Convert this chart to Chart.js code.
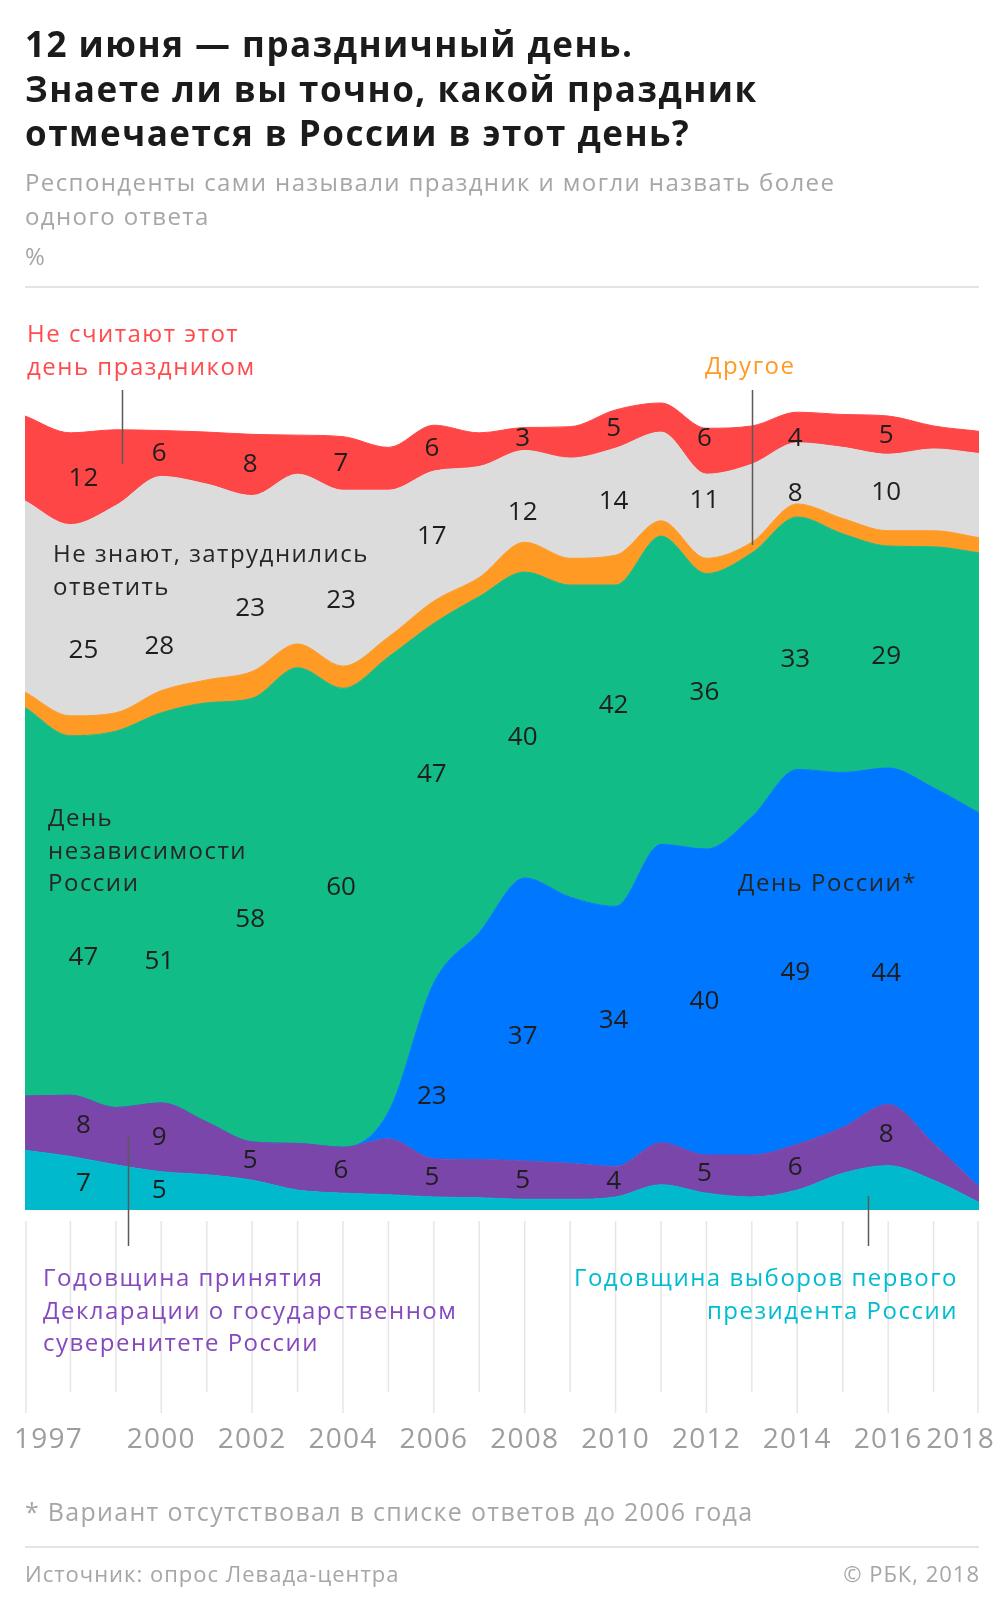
<!DOCTYPE html>
<html lang="ru">
<head>
<meta charset="utf-8">
<title>12 июня — праздничный день</title>
<script src="https://cdn.jsdelivr.net/npm/chart.js@4.4.1/dist/chart.umd.min.js"></script>
<style>
  html, body { margin: 0; padding: 0; background: #fff; }
  #page { position: relative; width: 1005px; height: 1601px; overflow: hidden; font-family: "Open Sans", sans-serif; }
  #chart { position: absolute; left: 0; top: 0; }
  .t { position: absolute; white-space: nowrap; }
  .title { left: 25px; top: 22px; font-weight: 700; font-size: 35px; line-height: 44.5px; color: #1b1b1b; letter-spacing: 1.5px; }
  .sub { left: 25px; top: 165px; font-size: 24px; line-height: 34px; color: #a6a6a6; letter-spacing: 1.4px; }
  .pct { left: 25px; top: 239px; font-size: 24px; line-height: 34px; color: #a6a6a6; }
  .rule { position: absolute; left: 25px; width: 954px; height: 2px; background: #e4e4e4; }
  .name { font-size: 24px; line-height: 32.5px; letter-spacing: 1.5px; }
  .foot { left: 25px; top: 1494px; font-size: 25px; line-height: 34px; color: #a6a6a6; letter-spacing: 1.3px; }
  .src { top: 1558px; font-size: 22px; line-height: 30px; color: #a6a6a6; letter-spacing: 1px; }
</style>
</head>
<body>
<div id="page">
  <canvas id="chart" width="1005" height="1601"></canvas>

  <div class="t title">12 июня — праздничный день.<br>Знаете ли вы точно, какой праздник<br>отмечается в России в этот день?</div>
  <div class="t sub">Респонденты сами называли праздник и могли назвать более<br>одного ответа</div>
  <div class="t pct">%</div>
  <div class="rule" style="top:286px"></div>

  <div class="t name" style="left:27px;top:317px;color:#ff4b4b">Не считают этот<br>день праздником</div>
  <div class="t name" style="left:705px;top:349px;color:#ff9a24">Другое</div>
  <div class="t name" style="left:53px;top:537px;color:#262626">Не знают, затруднились<br>ответить</div>
  <div class="t name" style="left:48px;top:801px;color:#262626">День<br>независимости<br>России</div>
  <div class="t name" style="left:738px;top:866px;color:#262626">День России*</div>
  <div class="t name" style="left:43px;top:1261px;color:#8649bd">Годовщина принятия<br>Декларации о государственном<br>суверенитете России</div>
  <div class="t name" style="right:47px;top:1261px;color:#00bcd0;text-align:right">Годовщина выборов первого<br>президента России</div>

  <div class="t foot">* Вариант отсутствовал в списке ответов до 2006 года</div>
  <div class="rule" style="top:1546px"></div>
  <div class="t src" style="left:25px">Источник: опрос Левада-центра</div>
  <div class="t src" style="right:25px">© РБК, 2018</div>
</div>

<script>
var years = [1997, 1998, 1999, 2000, 2001, 2002, 2003, 2004, 2005, 2006, 2007,
             2008, 2009, 2010, 2011, 2012, 2013, 2014, 2015, 2016, 2017, 2018];

// stacked from the bottom up
var cyan   = [7.8, 7, 5.9, 5, 4.6, 3.9, 2.6, 2.2, 2.0, 1.7, 1.6, 1.4, 1.4, 1.7, 3.3, 2.2, 1.7, 2.6, 4.8, 5.8, 3.9, 1.0];
var purple = [7.1, 8, 7.5, 9, 6.9, 5, 6.1, 6, 7.3, 5, 5.0, 5, 4.7, 4, 5.5, 5, 5.5, 6, 6.0, 8, 4.8, 2.0];
var blue   = [0, 0, 0, 0, 0, 0, 0, 0, 3.5, 23, 29.7, 37, 34.8, 34, 39.0, 40, 44.2, 49, 46.4, 44, 46.5, 48.9];
var green  = [50.8, 47, 49.2, 51, 54.8, 58, 62.2, 60, 59.5, 47, 43.9, 40, 40.8, 42, 40.3, 36, 34.5, 33, 31.2, 29, 31.5, 34.0];
var orange = [2.0, 2.6, 2.4, 2.9, 3.0, 3.5, 3.1, 2.9, 2.6, 2.9, 2.5, 3.9, 3.5, 3.9, 2.0, 2.0, 1.4, 1.7, 2.0, 2.0, 2.1, 2.0];
var grey   = [25.0, 25, 27.1, 28, 25.6, 23, 22.2, 23, 19.2, 17, 14.5, 12, 13.1, 14, 11.6, 11, 10.2, 8, 9.3, 10, 10.7, 11.0];
var red    = [11.1, 12, 9.9, 6, 6.8, 8, 5.1, 7, 5.6, 6, 4.4, 3, 4.1, 5, 3.8, 6, 5.0, 4, 4.3, 5, 3.0, 2.9];

var labelYears = [1998, 2000, 2002, 2004, 2006, 2008, 2010, 2012, 2014, 2016];
var blueLabelYears = [2006, 2008, 2010, 2012, 2014, 2016];
var cyanLabelYears = [1998, 2000];
var tickYears = [1997, 2000, 2002, 2004, 2006, 2008, 2010, 2012, 2014, 2016, 2018];

var series = [
  { key: 'cyan',   data: cyan,   color: '#00b9cb', labels: cyanLabelYears },
  { key: 'purple', data: purple, color: '#7a46a9', labels: labelYears },
  { key: 'blue',   data: blue,   color: '#0077ff', labels: blueLabelYears },
  { key: 'green',  data: green,  color: '#12bc86', labels: labelYears },
  { key: 'orange', data: orange, color: '#ff9a24', labels: [] },
  { key: 'grey',   data: grey,   color: '#dcdcdc', labels: labelYears },
  { key: 'red',    data: red,    color: '#ff4646', labels: labelYears }
];

// hand nudges so numbers stay clear of the series names, like in the original
var nudge = {
  'grey:1998': 30, 'grey:2000': 63, 'grey:2002': 25, 'grey:2004': 22, 'grey:2008': 16, 'grey:2012': -16, 'grey:2014': 20,
  'green:1998': 42, 'green:2000': 54, 'green:2004': -30, 'green:2006': -28, 'green:2008': 13, 'green:2010': -40,
  'green:2012': -19, 'green:2014': 16,
  'blue:2006': 26, 'blue:2008': 17, 'blue:2010': -16, 'blue:2014': 16, 'blue:2016': 37,
  'red:2012': -13, 'red:2014': 11
};

var decor = {
  id: 'decor',
  afterDatasetsDraw: function (chart) {
    var ctx = chart.ctx, x = chart.scales.x, y = chart.scales.y;
    ctx.save();

    // values inside the bands
    ctx.font = '26px "Open Sans"';
    ctx.fillStyle = '#1e1e1e';
    ctx.textAlign = 'center';
    ctx.textBaseline = 'middle';
    labelYears.forEach(function (yr) {
      var i = years.indexOf(yr);
      var base = 0;
      series.forEach(function (s) {
        var v = s.data[i];
        var mid = base + v / 2;
        base += v;
        if (s.labels.indexOf(yr) < 0) return;
        var px = x.getPixelForValue(yr) + (yr === 1998 ? 13 : -2);
        var py = y.getPixelForValue(mid) + (nudge[s.key + ':' + yr] || 0);
        ctx.fillText(String(v), px, py);
      });
    });

    // leader lines from the series names
    ctx.strokeStyle = '#5a5a5a';
    ctx.lineWidth = 1.5;
    [[1999.13, 390, 464], [2013.0, 390, 545], [1999.27, 1136, 1246], [2015.56, 1196, 1246]].forEach(function (l) {
      var lx = Math.round(x.getPixelForValue(l[0])) + 0.5;
      ctx.beginPath();
      ctx.moveTo(lx, l[1]);
      ctx.lineTo(lx, l[2]);
      ctx.stroke();
    });

    // year grid under the plot
    ctx.strokeStyle = '#e6e6e6';
    ctx.lineWidth = 1.5;
    years.forEach(function (yr) {
      var gx = x.getPixelForValue(yr);
      if (yr === 2018) gx -= 1;
      if (yr === 1997) gx += 1;
      var long = tickYears.indexOf(yr) >= 0;
      ctx.beginPath();
      ctx.moveTo(gx, 1221);
      ctx.lineTo(gx, long ? 1413 : 1392);
      ctx.stroke();
    });

    ctx.font = '28px "Open Sans"';
    ctx.letterSpacing = '1.2px';
    ctx.fillStyle = '#9d9d9d';
    tickYears.forEach(function (yr) {
      var tx = x.getPixelForValue(yr);
      ctx.textAlign = 'center';
      if (yr === 1997) { ctx.textAlign = 'left'; tx -= 11; }
      if (yr === 2018) { ctx.textAlign = 'right'; tx += 16; }
      ctx.fillText(String(yr), tx, 1440);
    });
    ctx.restore();
  }
};

new Chart(document.getElementById('chart'), {
  type: 'line',
  data: {
    datasets: series.map(function (s, k) {
      return {
        label: s.key,
        data: years.map(function (yr, i) { return { x: yr, y: s.data[i] }; }),
        backgroundColor: s.color,
        borderColor: s.color,
        borderWidth: 1,
        pointRadius: 0,
        fill: k === 0 ? 'origin' : '-1',
        cubicInterpolationMode: 'monotone'
      };
    })
  },
  options: {
    responsive: false,
    animation: false,
    layout: { padding: { left: 25, right: 26, top: 390, bottom: 391 } },
    scales: {
      x: { type: 'linear', min: 1997, max: 2018, display: false },
      y: { stacked: true, min: 0, max: 107.2, display: false }
    },
    plugins: { legend: { display: false }, tooltip: { enabled: false } }
  },
  plugins: [decor]
});
</script>
</body>
</html>
